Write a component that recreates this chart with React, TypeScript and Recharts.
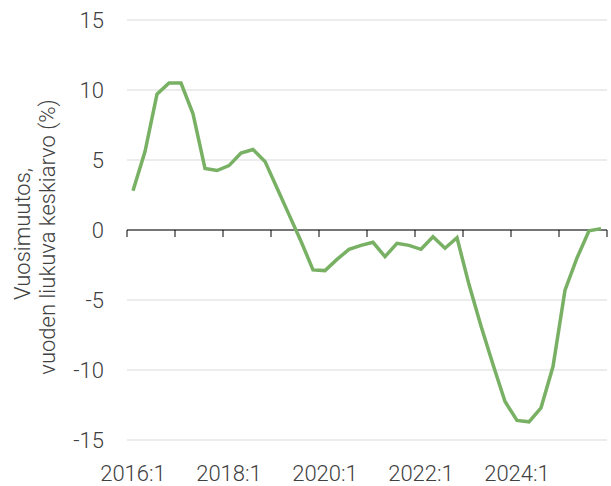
import { LineChart, Line, XAxis, YAxis, CartesianGrid, ReferenceLine } from 'recharts';

// quarterly series, 2016:1 ... 2025:4
const years = [2016, 2017, 2018, 2019, 2020, 2021, 2022, 2023, 2024, 2025];
const values = [
  2.8, 5.6, 9.7, 10.5, 10.5, 8.3, 4.4, 4.25, 4.6, 5.5,
  5.75, 4.9, 3.0, 1.1, -0.8, -2.85, -2.9, -2.1, -1.38, -1.1,
  -0.88, -1.9, -0.95, -1.1, -1.38, -0.48, -1.3, -0.55, -3.9, -6.85,
  -9.6, -12.25, -13.6, -13.7, -12.7, -9.75, -4.3, -2.0, -0.05, 0.1,
];
const xTickLabels = ['2016:1', '2018:1', '2020:1', '2022:1', '2024:1'];
const yTicks = [-15, -10, -5, 0, 5, 10, 15];

const data = values.map((v, i) => ({
  period: `${years[Math.floor(i / 4)]}:${(i % 4) + 1}`,
  q: i,
  value: v,
}));

// labels sit on the first quarter of every other year, tick marks on year boundaries
const labelQuarters = xTickLabels.map((l) => data.findIndex((d) => d.period === l));
const yearEdges = [...years, 2026].map((_, i) => i * 4 - 0.5);

const textColor = '#404040';
const font = 'Roboto, sans-serif';

const AxisTitle = () => (
  <g fill={textColor} fontFamily={font} fontSize={22} fontWeight={300}>
    <text x={30} y={234} transform="rotate(-90, 30, 234)" textAnchor="middle">
      Vuosimuutos,
    </text>
    <text x={55} y={237} transform="rotate(-90, 55, 237)" textAnchor="middle">
      vuoden liukuva keskiarvo (%)
    </text>
  </g>
);

export default function App() {
  return (
    <div style={{ position: 'absolute', left: 0, top: 0, background: '#fff' }}>
      <LineChart width={611} height={486} data={data} margin={{ top: 20, right: 4, bottom: 0, left: 0 }}>
        <CartesianGrid vertical={false} stroke="#d9d9d9" />
        <XAxis
          dataKey="q"
          type="number"
          domain={[-0.5, 39.5]}
          ticks={labelQuarters}
          tickFormatter={(_v: number, i: number) => xTickLabels[i]}
          axisLine={false}
          tickLine={false}
          tickSize={0}
          tickMargin={25}
          height={46}
          interval={0}
          tick={{ fill: textColor, fontSize: 22, fontFamily: font, fontWeight: 300 }}
        />
        <YAxis
          domain={[-15, 15]}
          ticks={yTicks}
          axisLine={false}
          tickLine={false}
          tickSize={0}
          tickMargin={23}
          width={127}
          tick={{ fill: textColor, fontSize: 22, fontFamily: font, fontWeight: 300 }}
          label={{ content: AxisTitle }}
        />
        <ReferenceLine y={0} stroke="#000" strokeWidth={1} />
        {yearEdges.map((x) => (
          <ReferenceLine
            key={x}
            segment={[{ x, y: 0 }, { x, y: -0.5 }]}
            stroke="#000"
            strokeWidth={1}
          />
        ))}
        <Line
          type="linear"
          dataKey="value"
          stroke="#78b064"
          strokeWidth={3.5}
          dot={false}
          isAnimationActive={false}
        />
      </LineChart>
    </div>
  );
}
